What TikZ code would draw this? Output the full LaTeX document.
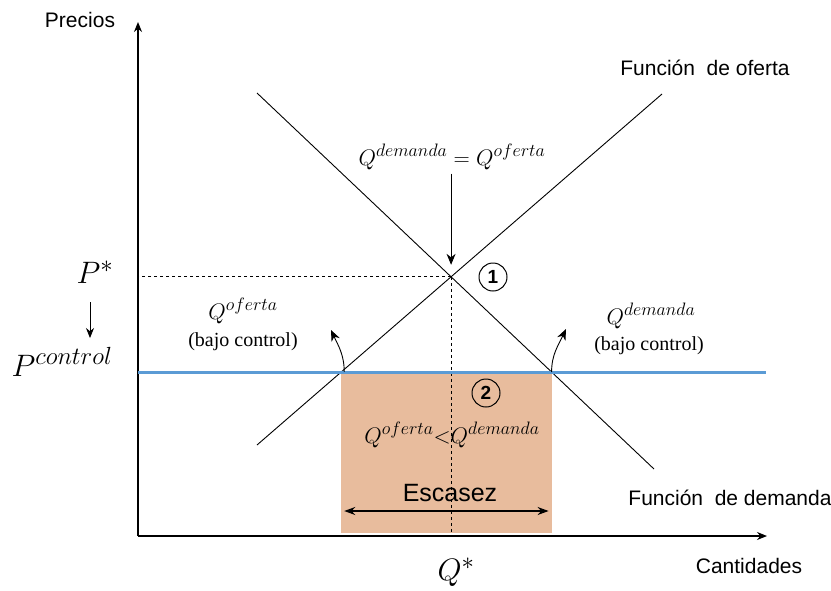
\RequirePackage{fix-cm}
\documentclass[tikz,border=0pt]{standalone}
\usepackage{fontspec}
\usepackage{xcolor}
\usepackage{tikz}
\usetikzlibrary{arrows.meta, positioning, calc}
\newfontfamily\labelfont{Liberation Sans}
\newfontfamily\notefont{Liberation Serif}
\renewcommand\defaultscriptratio{.8}
\definecolor{ctrlblue}{HTML}{5B9BD5}
\definecolor{shortfill}{HTML}{E8BC9D}

\begin{document}
\begin{tikzpicture}[
    x=1pt, y=-1pt,
    axislabel/.style={font=\labelfont\fontsize{21}{25}\selectfont, inner sep=0pt},
    bigmath/.style={font=\fontsize{31}{35}\selectfont, inner sep=0pt},
    qmath/.style={font=\fontsize{22.5}{27}\selectfont, inner sep=0pt},
    note/.style={font=\notefont\fontsize{20}{24}\selectfont, inner sep=0pt},
    numcircle/.style={circle, draw, line width=1pt, minimum size=28pt, inner sep=0pt,
                      font=\labelfont\bfseries\fontsize{19}{21}\selectfont},
    curve/.style={line width=0.9pt},
]
    \useasboundingbox (0,0) rectangle (831,590);

    % Reference points
    \coordinate (o) at (138,536);
    \coordinate (ytop) at (138,22);
    \coordinate (xend) at (767,536);
    \coordinate (s1) at (257,445);
    \coordinate (s2) at (662,94);
    \coordinate (d1) at (257,93);
    \coordinate (d2) at (654,469);
    \coordinate (bl) at (138,372);
    \coordinate (br) at (766,372);
    \coordinate (eq) at (intersection of s1--s2 and d1--d2);
    \coordinate (sc) at (intersection of s1--s2 and bl--br);
    \coordinate (dc) at (intersection of d1--d2 and bl--br);
    \coordinate (rb) at (138,533);
    \coordinate (ea) at (138,511);

    % Shortage area
    \fill[shortfill] (sc) rectangle (dc |- rb);

    % Axes
    \draw[line width=1.2pt, -{Stealth[length=10pt, width=8pt]}] (o) -- (ytop);
    \draw[line width=1.2pt, -{Stealth[length=10pt, width=8pt]}] (o) -- (xend);
    \node[axislabel] (precios) at (80,20) {Precios};
    \node[axislabel] (cantidades) at (749,566) {Cantidades};

    % Supply and demand
    \draw[curve] (s1) -- (s2);
    \draw[curve] (d1) -- (d2);
    \node[axislabel] (oferta) at (705,68) {Función\ \ de oferta};
    \node[axislabel] (demanda) at (730,498) {Función\ \ de demanda};

    % Equilibrium
    \draw[curve, dashed] (eq) -- (eq -| o);
    \draw[curve, dashed] (eq) -- (eq |- o);
    \node[qmath] (eqlabel) at (452,157) {$Q^{demanda} = Q^{oferta}$};
    \draw[curve, -{Stealth[length=11pt, width=9pt]}] (eqlabel.south -| eq) ++(0,4) -- ([yshift=12pt]eq);
    \node[numcircle] (one) at (493,277) {1};
    \node[bigmath] (pstar) at (95,272) {$P^{*}$};
    \node[bigmath] (qstar) at (456,572) {$Q^{*}$};

    % Price control
    \draw[line width=3pt, ctrlblue] (bl) -- (br);
    \node[bigmath] (pcontrol) at (62,362) {$P^{control}$};
    \draw[curve, -{Stealth[length=10pt, width=8pt]}] (90,302) -- (90,338);
    \node[qmath] (qofl) at (243,311) {$Q^{oferta}$};
    \node[note] (qofb) at (243,342) {(bajo control)};
    \node[qmath] (qdel) at (651,316) {$Q^{demanda}$};
    \node[note] (qdeb) at (649,346) {(bajo control)};
    \coordinate (qoftip) at (331,330);
    \coordinate (qdetip) at (566,329);
    \draw[curve, -{Stealth[length=11pt, width=9pt]}] (sc) ++(3,0) to[out=90, in=-65] (qoftip);
    \draw[curve, -{Stealth[length=11pt, width=9pt]}] (dc) to[out=90, in=-115] (qdetip);

    % Shortage
    \node[numcircle] (two) at (486,393) {2};
    \node[qmath] (ineq) at (452,435) {$Q^{oferta}{<}Q^{demanda}$};
    \node[axislabel, font=\labelfont\fontsize{25}{29}\selectfont] (escasez) at (450,493) {Escasez};
    \draw[line width=1.2pt, {Stealth[length=11pt, width=8pt]}-{Stealth[length=11pt, width=8pt]}]
        ([xshift=3pt]sc |- ea) -- ([xshift=-3pt]dc |- ea);
\end{tikzpicture}
\end{document}
